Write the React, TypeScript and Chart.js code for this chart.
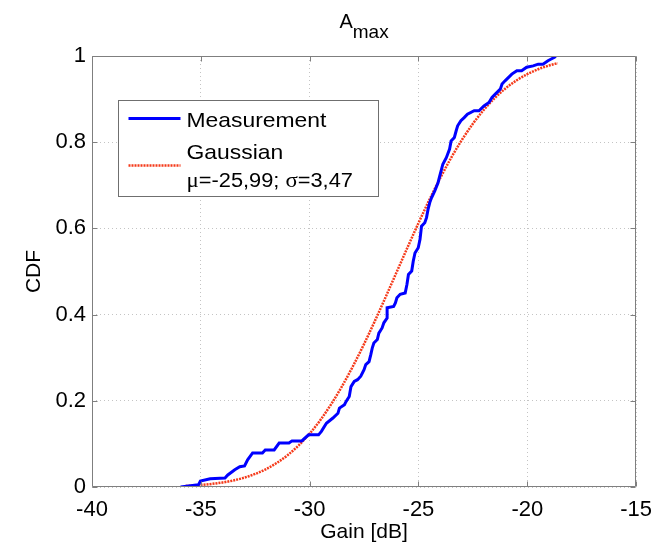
import React, { useEffect, useRef } from "react";
import { Chart, registerables } from "chart.js";

Chart.register(...registerables);

const measX = [
  -35.93, -35.11, -35.02, -34.57, -33.89, -33.76, -33.44, -33.21, -32.99, -32.85,
  -32.62, -32.17, -32.04, -31.63, -31.40, -30.95, -30.81, -30.36, -30.05, -29.59,
  -29.46, -29.23, -28.93, -28.70, -28.63, -28.40, -28.33, -28.18, -28.10, -27.95,
  -27.80, -27.65, -27.50, -27.42, -27.27, -27.19, -27.12, -27.05, -26.89, -26.82,
  -26.67, -26.59, -26.44, -26.44, -26.14, -26.06, -25.99, -25.84, -25.61, -25.53,
  -25.46, -25.31, -25.24, -25.16, -25.01, -24.93, -24.86, -24.71, -24.63, -24.56,
  -24.48, -24.40, -24.25, -24.10, -24.03, -23.88, -23.72, -23.57, -23.50, -23.35,
  -23.27, -23.20, -23.05, -22.90, -22.75, -22.44, -22.22, -21.99, -21.76, -21.62,
  -21.46, -21.24, -21.16, -21.01, -20.71, -20.48, -20.26, -20.03, -19.73, -19.50,
  -19.28, -19.05, -18.90, -18.75, -18.69,
];
const measY = [
  0.0, 0.005, 0.014, 0.019, 0.021, 0.028, 0.040, 0.047, 0.049, 0.063,
  0.079, 0.079, 0.086, 0.086, 0.102, 0.102, 0.107, 0.107, 0.121, 0.121,
  0.129, 0.148, 0.160, 0.171, 0.183, 0.191, 0.198, 0.210, 0.233, 0.245,
  0.249, 0.257, 0.272, 0.284, 0.291, 0.307, 0.323, 0.334, 0.342, 0.357,
  0.369, 0.381, 0.392, 0.416, 0.419, 0.427, 0.439, 0.447, 0.450, 0.470,
  0.493, 0.501, 0.524, 0.543, 0.555, 0.574, 0.605, 0.613, 0.625, 0.644,
  0.660, 0.671, 0.687, 0.706, 0.720, 0.749, 0.764, 0.784, 0.803, 0.811,
  0.826, 0.838, 0.850, 0.857, 0.865, 0.873, 0.873, 0.884, 0.892, 0.904,
  0.912, 0.923, 0.935, 0.943, 0.958, 0.966, 0.966, 0.974, 0.977, 0.981,
  0.981, 0.989, 0.993, 0.997, 1.0,
];

const gaussX = [
  -35.7, -35.5, -35.0, -34.5, -34.0, -33.5, -33.0, -32.5, -32.0, -31.5,
  -31.0, -30.5, -30.0, -29.5, -29.0, -28.5, -28.0, -27.5, -27.0, -26.5,
  -26.0, -25.5, -25.0, -24.5, -24.0, -23.5, -23.0, -22.5, -22.0, -21.5,
  -21.0, -20.5, -20.0, -19.5, -19.0, -18.6,
];
const gaussY = [
  0.0026, 0.0031, 0.0047, 0.0071, 0.0105, 0.0152, 0.0217, 0.0303, 0.0416, 0.0561,
  0.0744, 0.0968, 0.1239, 0.1558, 0.1930, 0.2348, 0.2813, 0.3317, 0.3855, 0.4416,
  0.4988, 0.5561, 0.6123, 0.6662, 0.7168, 0.7636, 0.8056, 0.8427, 0.8749, 0.9022,
  0.9248, 0.9432, 0.9578, 0.9693, 0.9780, 0.9834,
];

const xTickValues = [-40, -35, -30, -25, -20, -15];
const xTickLabels = ["-40", "-35", "-30", "-25", "-20", "-15"];
const yTickValues = [0, 0.2, 0.4, 0.6, 0.8, 1];
const yTickLabels = ["0", "0.2", "0.4", "0.6", "0.8", "1"];

const seriesNames = ["Measurement", "Gaussian"];
const gaussParamText = ["\u03bc", "=-25,99; ", "\u03c3", "=3,47"];
const titleMain = "A";
const titleSub = "max";
const xTitle = "Gain [dB]";
const yTitle = "CDF";

const SANS = "'Liberation Sans', Arial, sans-serif";
const SERIF = "'Liberation Serif', 'Times New Roman', serif";

const overlay = {
  id: "overlay",
  afterDatasetsDraw(chart: any) {
    const { ctx, chartArea: a, scales } = chart;
    ctx.save();
    ctx.strokeStyle = "#7f7f7f";
    ctx.lineWidth = 1;
    const L = Math.round(a.left) + 0.5;
    const R = Math.round(a.right) - 0.5;
    const T = Math.round(a.top) + 0.5;
    const B = Math.round(a.bottom) - 0.5;
    ctx.beginPath();
    ctx.rect(L, T, R - L, B - T);
    ctx.stroke();
    const tl = 5;
    ctx.beginPath();
    xTickValues.forEach((v) => {
      const px = Math.round(scales.x.getPixelForValue(v)) + 0.5;
      ctx.moveTo(px, B);
      ctx.lineTo(px, B - tl);
      ctx.moveTo(px, T);
      ctx.lineTo(px, T + tl);
    });
    yTickValues.forEach((v) => {
      const py = Math.round(scales.y.getPixelForValue(v)) + 0.5;
      ctx.moveTo(L, py);
      ctx.lineTo(L + tl, py);
      ctx.moveTo(R, py);
      ctx.lineTo(R - tl, py);
    });
    ctx.stroke();
    ctx.restore();
  },
  afterDraw(chart: any) {
    const { ctx, chartArea: a } = chart;
    ctx.save();
    // Title
    ctx.fillStyle = "#000";
    ctx.textBaseline = "alphabetic";
    ctx.font = `20px ${SANS}`;
    const wA = ctx.measureText(titleMain).width;
    ctx.font = `19px ${SANS}`;
    const wS = ctx.measureText(titleSub).width;
    const cx = (a.left + a.right) / 2;
    const startX = cx - (wA + wS) / 2;
    ctx.font = `20px ${SANS}`;
    ctx.textAlign = "left";
    ctx.fillText(titleMain, startX, a.top - 28);
    ctx.font = `19px ${SANS}`;
    ctx.fillText(titleSub, startX + wA, a.top - 18);

    // Axis titles
    ctx.font = `21px ${SANS}`;
    ctx.textAlign = "center";
    ctx.textBaseline = "middle";
    ctx.fillText(xTitle, cx, a.bottom + 45);
    ctx.save();
    ctx.translate(34, (a.top + a.bottom) / 2);
    ctx.rotate(-Math.PI / 2);
    ctx.fillText(yTitle, 0, 0);
    ctx.restore();

    // Legend
    const bx = a.left + 26.5;
    const by = a.top + 44.5;
    const bw = 260;
    const bh = 96;
    ctx.fillStyle = "#fff";
    ctx.fillRect(bx, by, bw, bh);
    ctx.strokeStyle = "#6f6f6f";
    ctx.lineWidth = 1;
    ctx.strokeRect(bx, by, bw, bh);

    ctx.strokeStyle = "#0000ff";
    ctx.lineWidth = 3;
    ctx.beginPath();
    ctx.moveTo(bx + 10, by + 18);
    ctx.lineTo(bx + 62, by + 18);
    ctx.stroke();

    ctx.strokeStyle = "#f53a1a";
    ctx.lineWidth = 2.5;
    ctx.setLineDash([2, 1]);
    ctx.beginPath();
    ctx.moveTo(bx + 10, by + 65);
    ctx.lineTo(bx + 62, by + 65);
    ctx.stroke();
    ctx.setLineDash([]);

    ctx.fillStyle = "#000";
    ctx.textAlign = "left";
    ctx.textBaseline = "alphabetic";
    // reference text is slightly wider than Liberation Sans: stretch horizontally
    const sx = 1.09;
    const textX = bx + 68;
    ctx.save();
    ctx.translate(textX, 0);
    ctx.scale(sx, 1);
    ctx.font = `21px ${SANS}`;
    ctx.fillText(seriesNames[0], 0, by + 26);
    ctx.fillText(seriesNames[1], 0, by + 58);
    let tx = 0;
    gaussParamText.forEach((s, i) => {
      ctx.font = i % 2 === 0 ? `21px ${SERIF}` : `20px ${SANS}`;
      ctx.fillText(s, tx, by + 86);
      tx += ctx.measureText(s).width;
    });
    ctx.restore();
    ctx.restore();
  },
};

export default function App() {
  const ref = useRef<HTMLCanvasElement | null>(null);
  useEffect(() => {
    if (!ref.current) return;
    const chart = new Chart(ref.current, {
      type: "line",
      data: {
        datasets: [
          {
            label: seriesNames[0],
            data: measX.map((x, i) => ({ x, y: measY[i] })),
            borderColor: "#0000ff",
            borderWidth: 3,
            pointRadius: 0,
            fill: false,
            tension: 0,
          },
          {
            label: seriesNames[1],
            data: gaussX.map((x, i) => ({ x, y: gaussY[i] })),
            borderColor: "#f53a1a",
            borderWidth: 2.5,
            borderDash: [2, 1],
            pointRadius: 0,
            fill: false,
            cubicInterpolationMode: "monotone",
          },
        ],
      },
      options: {
        animation: false,
        responsive: false,
        events: [],
        layout: { padding: { top: 56, right: 17, left: 0, bottom: 0 } },
        plugins: {
          legend: { display: false },
          title: { display: false },
          tooltip: { enabled: false },
        },
        scales: {
          x: {
            type: "linear",
            min: -40,
            max: -15,
            afterBuildTicks: (s: any) => {
              s.ticks = xTickValues.map((v) => ({ value: v }));
            },
            ticks: {
              color: "#000",
              font: { family: SANS, size: 22 },
              padding: 10,
              maxRotation: 0,
              callback: (v: any) => {
                const i = xTickValues.indexOf(Number(v));
                return i >= 0 ? xTickLabels[i] : "";
              },
            },
            grid: { color: "#c4c4c4", drawTicks: false, lineWidth: 1 },
            border: { display: false, dash: [1, 3] },
            afterFit: (s: any) => {
              s.height = 60;
            },
          },
          y: {
            type: "linear",
            min: 0,
            max: 1,
            afterBuildTicks: (s: any) => {
              s.ticks = yTickValues.map((v) => ({ value: v }));
            },
            ticks: {
              color: "#000",
              font: { family: SANS, size: 22 },
              padding: 6,
              callback: (v: any) => {
                const i = yTickValues.findIndex((t) => Math.abs(t - Number(v)) < 1e-9);
                return i >= 0 ? yTickLabels[i] : "";
              },
            },
            grid: { color: "#c4c4c4", drawTicks: false, lineWidth: 1 },
            border: { display: false, dash: [1, 3] },
            afterFit: (s: any) => {
              s.width = 92;
            },
          },
        },
      },
      plugins: [overlay],
    } as any);
    return () => chart.destroy();
  }, []);
  return (
    <div style={{ position: "absolute", left: 0, top: 0, width: 662, height: 547, background: "#fff" }}>
      <canvas ref={ref} width={662} height={547} style={{ display: "block" }} />
    </div>
  );
}
